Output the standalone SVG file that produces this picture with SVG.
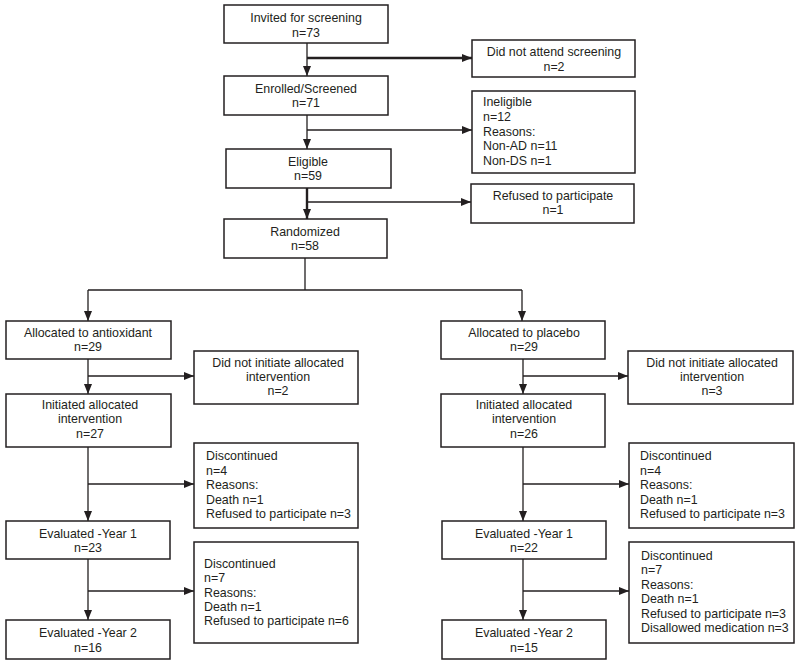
<svg xmlns="http://www.w3.org/2000/svg" width="800" height="665" viewBox="0 0 800 665">
<style>
rect{fill:#fff;stroke:#231f20;stroke-width:1.5}
text{font-family:"Liberation Sans",Arial,sans-serif;font-size:12.4px;fill:#231f20}
.c{text-anchor:middle}
.ln{fill:none;stroke:#231f20;stroke-width:1.3}
.th{stroke-width:2.4}
</style>
<defs>
<marker id="ah" markerUnits="userSpaceOnUse" markerWidth="10" markerHeight="10" viewBox="0 0 10 10" refX="10" refY="5" orient="auto">
<path d="M0,1 L10,5 L0,9 Z" fill="#231f20"/>
</marker>
</defs>
<rect x="0" y="0" width="800" height="665" style="stroke:none"/>
<g id="connectors">
<path class="ln" d="M307,43 V76" marker-end="url(#ah)"/>
<path class="ln th" d="M307,58 H472" marker-end="url(#ah)"/>
<path class="ln" d="M307,115 V149" marker-end="url(#ah)"/>
<path class="ln" d="M307,130 H472" marker-end="url(#ah)"/>
<path class="ln th" d="M307,188 V219" marker-end="url(#ah)"/>
<path class="ln" d="M307,202 H471" marker-end="url(#ah)"/>
<path class="ln" d="M305,258 V290 M88,290 H522"/>
<path class="ln" d="M88,290 V321" marker-end="url(#ah)"/>
<path class="ln" d="M522,290 V321" marker-end="url(#ah)"/>
<path class="ln" d="M88,359 V394" marker-end="url(#ah)"/>
<path class="ln" d="M88,376 H194" marker-end="url(#ah)"/>
<path class="ln" d="M523,359 V394" marker-end="url(#ah)"/>
<path class="ln" d="M523,376 H628" marker-end="url(#ah)"/>
<path class="ln" d="M88,447 V521" marker-end="url(#ah)"/>
<path class="ln" d="M88,484 H194" marker-end="url(#ah)"/>
<path class="ln" d="M523,447 V521" marker-end="url(#ah)"/>
<path class="ln" d="M523,484 H629" marker-end="url(#ah)"/>
<path class="ln" d="M88,559 V620" marker-end="url(#ah)"/>
<path class="ln" d="M88,591 H194" marker-end="url(#ah)"/>
<path class="ln" d="M523,559 V620" marker-end="url(#ah)"/>
<path class="ln" d="M523,591 H629" marker-end="url(#ah)"/>
</g>
<g id="invited"><rect x="224" y="5" width="164" height="38"/><text class="c" x="306" y="22">Invited for screening</text><text class="c" x="306" y="37">n=73</text></g>
<g id="notattend"><rect x="472" y="40" width="163" height="37"/><text class="c" x="554" y="56">Did not attend screening</text><text class="c" x="554" y="71">n=2</text></g>
<g id="enrolled"><rect x="224" y="76" width="164" height="39"/><text class="c" x="306" y="93">Enrolled/Screened</text><text class="c" x="306" y="107">n=71</text></g>
<g id="ineligible"><rect x="472" y="91" width="163" height="82"/>
<text x="483" y="106">Ineligible</text><text x="483" y="121">n=12</text><text x="483" y="135.5">Reasons:</text><text x="483" y="150">Non-AD n=11</text><text x="483" y="164.5">Non-DS n=1</text></g>
<g id="eligible"><rect x="226" y="149" width="165" height="39"/><text class="c" x="308" y="166">Eligible</text><text class="c" x="308" y="180">n=59</text></g>
<g id="refused"><rect x="471" y="184" width="163" height="39"/><text class="c" x="553" y="200">Refused to participate</text><text class="c" x="553" y="214">n=1</text></g>
<g id="randomized"><rect x="224" y="219" width="163" height="39"/><text class="c" x="305" y="236">Randomized</text><text class="c" x="305" y="250">n=58</text></g>
<g id="alloc-anti"><rect x="6" y="321" width="165" height="38"/><text class="c" x="88" y="337">Allocated to antioxidant</text><text class="c" x="88" y="351">n=29</text></g>
<g id="notinit-anti"><rect x="194" y="351" width="164" height="53"/><text class="c" x="278" y="367">Did not initiate allocated</text><text class="c" x="278" y="381">intervention</text><text class="c" x="278" y="395">n=2</text></g>
<g id="init-anti"><rect x="6" y="394" width="165" height="53"/><text class="c" x="90" y="409">Initiated allocated</text><text class="c" x="90" y="423">intervention</text><text class="c" x="90" y="438">n=27</text></g>
<g id="disc1-anti"><rect x="194" y="443" width="164" height="85"/>
<text x="206" y="460">Discontinued</text><text x="206" y="475">n=4</text><text x="206" y="489">Reasons:</text><text x="206" y="503.5">Death n=1</text><text x="206" y="518">Refused to participate n=3</text></g>
<g id="y1-anti"><rect x="6" y="521" width="164" height="38"/><text class="c" x="88" y="538">Evaluated -Year 1</text><text class="c" x="88" y="552">n=23</text></g>
<g id="disc2-anti"><rect x="194" y="542" width="164" height="101"/>
<text x="204" y="568">Discontinued</text><text x="204" y="582">n=7</text><text x="204" y="596.5">Reasons:</text><text x="204" y="610.5">Death n=1</text><text x="204" y="625">Refused to participate n=6</text></g>
<g id="y2-anti"><rect x="6" y="620" width="164" height="39"/><text class="c" x="88" y="637">Evaluated -Year 2</text><text class="c" x="88" y="652">n=16</text></g>
<g id="alloc-plac"><rect x="441" y="321" width="164" height="38"/><text class="c" x="524" y="337">Allocated to placebo</text><text class="c" x="524" y="351">n=29</text></g>
<g id="notinit-plac"><rect x="628" y="351" width="165" height="53"/><text class="c" x="712" y="367">Did not initiate allocated</text><text class="c" x="712" y="381">intervention</text><text class="c" x="712" y="395">n=3</text></g>
<g id="init-plac"><rect x="441" y="394" width="164" height="53"/><text class="c" x="524" y="409">Initiated allocated</text><text class="c" x="524" y="423">intervention</text><text class="c" x="524" y="438">n=26</text></g>
<g id="disc1-plac"><rect x="629" y="443" width="165" height="85"/>
<text x="640" y="460">Discontinued</text><text x="640" y="475">n=4</text><text x="640" y="489">Reasons:</text><text x="640" y="503.5">Death n=1</text><text x="640" y="518">Refused to participate n=3</text></g>
<g id="y1-plac"><rect x="442" y="521" width="164" height="38"/><text class="c" x="524" y="538">Evaluated -Year 1</text><text class="c" x="524" y="552">n=22</text></g>
<g id="disc2-plac"><rect x="629" y="542" width="165" height="101"/>
<text x="641" y="560">Discontinued</text><text x="641" y="574">n=7</text><text x="641" y="589">Reasons:</text><text x="641" y="603">Death n=1</text><text x="641" y="617.5">Refused to participate n=3</text><text x="641" y="632">Disallowed medication n=3</text></g>
<g id="y2-plac"><rect x="442" y="620" width="164" height="39"/><text class="c" x="524" y="637">Evaluated -Year 2</text><text class="c" x="524" y="652">n=15</text></g>
</svg>
